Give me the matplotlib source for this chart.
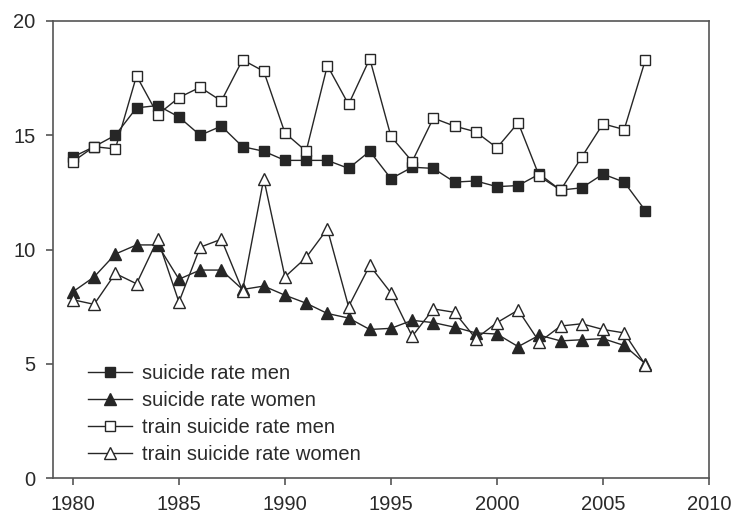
import numpy as np
import matplotlib.pyplot as plt

plt.rcParams['font.family'] = ['Liberation Sans', 'DejaVu Sans']

# Data
years = list(range(1980, 2008))
suicide_men = [14.05, 14.5, 15.0, 16.2, 16.3, 15.8, 15.0, 15.4, 14.5, 14.3,
               13.9, 13.9, 13.9, 13.55, 14.3, 13.1, 13.6, 13.55, 12.95, 13.0,
               12.75, 12.8, 13.3, 12.6, 12.7, 13.3, 12.95, 11.7]
suicide_women = [8.15, 8.8, 9.8, 10.2, 10.2, 8.7, 9.1, 9.1, 8.25, 8.4,
                 8.0, 7.65, 7.2, 7.0, 6.5, 6.55, 6.9, 6.8, 6.6, 6.35,
                 6.3, 5.75, 6.25, 6.0, 6.05, 6.1, 5.8, 5.0]
train_men = [13.85, 14.5, 14.4, 17.6, 15.9, 16.65, 17.1, 16.5, 18.3, 17.8,
             15.1, 14.3, 18.05, 16.35, 18.35, 14.95, 13.85, 15.75, 15.4, 15.15,
             14.45, 15.55, 13.2, 12.6, 14.05, 15.5, 15.25, 18.3]
train_women = [7.8, 7.6, 8.95, 8.5, 10.45, 7.7, 10.1, 10.45, 8.2, 13.1,
               8.8, 9.65, 10.9, 7.5, 9.3, 8.1, 6.2, 7.4, 7.25, 6.1,
               6.8, 7.35, 5.95, 6.65, 6.75, 6.5, 6.35, 4.95]

line_color = '#262626'
axis_color = '#555555'
text_color = '#2a2a2a'

fig = plt.figure(figsize=(7.34, 5.17), dpi=100)
ax = fig.add_axes([53 / 734, 1 - 478 / 517, 656 / 734, 457 / 517])

common = dict(color=line_color, linewidth=1.0, markeredgecolor=line_color,
              markeredgewidth=1.0)
ax.plot(years, suicide_men, marker='s', markersize=7.5, markerfacecolor=line_color,
        label='suicide rate men', **common)
ax.plot(years, suicide_women, marker='^', markersize=8.5, markerfacecolor=line_color,
        label='suicide rate women', **common)
ax.plot(years, train_men, marker='s', markersize=7.5, markerfacecolor='white',
        label='train suicide rate men', **common)
ax.plot(years, train_women, marker='^', markersize=8.5, markerfacecolor='white',
        label='train suicide rate women', **common)

ax.set_xlim(1979.06, 2010)
ax.set_ylim(0, 20)
ax.set_xticks([1980, 1985, 1990, 1995, 2000, 2005, 2010])
ax.set_yticks([0, 5, 10, 15, 20])

for s in ax.spines.values():
    s.set_color(axis_color)
    s.set_linewidth(1.2)
ax.tick_params(direction='out', length=5, width=1.2, color=axis_color,
               labelsize=14.5, labelcolor=text_color, pad=7.5)

leg = ax.legend(loc='lower left', bbox_to_anchor=(0.053, 0.03), frameon=False,
                fontsize=14.5, handlelength=2.2, handletextpad=0.5,
                labelspacing=0.4, borderpad=0, borderaxespad=0)
for t in leg.get_texts():
    t.set_color(text_color)

fig.savefig('out.png', dpi=100)
